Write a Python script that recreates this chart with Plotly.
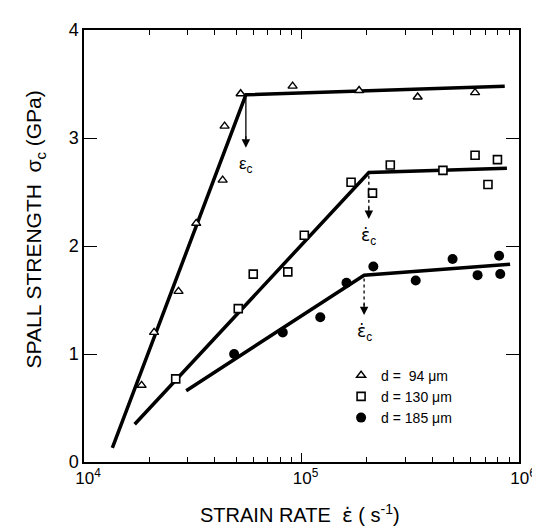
import math
import plotly.graph_objects as go

# ---- data ----
tri_x = [1.84e4, 2.10e4, 2.72e4, 3.28e4, 4.34e4, 4.43e4, 5.25e4, 9.1e4, 1.84e5, 3.42e5, 6.28e5]
tri_y = [0.71, 1.20, 1.58, 2.21, 2.61, 3.11, 3.41, 3.48, 3.44, 3.38, 3.42]

sq_x = [2.64e4, 5.12e4, 6.0e4, 8.65e4, 1.03e5, 1.69e5, 2.12e5, 2.56e5, 4.47e5, 6.28e5, 7.2e5, 7.96e5]
sq_y = [0.77, 1.42, 1.74, 1.76, 2.10, 2.59, 2.49, 2.75, 2.70, 2.84, 2.57, 2.80]

dot_x = [4.9e4, 8.2e4, 1.22e5, 1.61e5, 2.14e5, 3.35e5, 4.95e5, 6.45e5, 8.1e5, 8.2e5]
dot_y = [1.00, 1.20, 1.34, 1.66, 1.81, 1.68, 1.88, 1.73, 1.91, 1.74]

# bilinear fit lines
tri_fit_x = [1.35e4, 5.55e4, 8.6e5]
tri_fit_y = [0.13, 3.40, 3.48]
sq_fit_x = [1.71e4, 2.04e5, 8.8e5]
sq_fit_y = [0.35, 2.68, 2.72]
dot_fit_x = [2.95e4, 1.94e5, 9.1e5]
dot_fit_y = [0.66, 1.73, 1.83]

# critical strain rates (knee) with arrow tips and labels
knee_x = [5.55e4, 2.04e5, 1.94e5]
knee_y = [3.40, 2.68, 1.73]
tip_y = [2.91, 2.25, 1.36]
DOT = '<span style="font-family:DejaVu Sans">ε\u0307</span>'
knee_labels = ["ε<sub>c</sub>", DOT + "<sub>c</sub>", DOT + "<sub>c</sub>"]
arrow_dash = ["solid", "dot", "dot"]

series_names = ["d =  94 μm", "d = 130 μm", "d = 185 μm"]

x_tick_vals = [1e4, 1e5, 1e6]
x_tick_text = ["10<sup>4</sup>", "10<sup>5</sup>", "10<sup>6</sup>"]
y_tick_vals = [0, 1, 2, 3, 4]
y_tick_text = ["0", "1", "2", "3", "4"]

FONT = "Liberation Sans, Arial, sans-serif"

fig = go.Figure()

for fx, fy in [(tri_fit_x, tri_fit_y), (sq_fit_x, sq_fit_y), (dot_fit_x, dot_fit_y)]:
    fig.add_trace(go.Scatter(x=fx, y=fy, mode="lines",
                             line=dict(color="black", width=3.5),
                             showlegend=False, hoverinfo="skip"))

fig.add_trace(go.Scatter(x=tri_x, y=tri_y, mode="markers", name=series_names[0],
                         marker=dict(symbol="triangle-up", size=8, color="white",
                                     line=dict(color="black", width=1.4))))
fig.add_trace(go.Scatter(x=sq_x, y=sq_y, mode="markers", name=series_names[1],
                         marker=dict(symbol="square", size=8, color="white",
                                     line=dict(color="black", width=1.6))))
fig.add_trace(go.Scatter(x=dot_x, y=dot_y, mode="markers", name=series_names[2],
                         marker=dict(symbol="circle", size=10, color="black",
                                     line=dict(color="black", width=0))))

annotations = []
shapes = []
for kx, ky, ty, lab, dash in zip(knee_x, knee_y, tip_y, knee_labels, arrow_dash):
    lx = math.log10(kx)
    # shapes on a log axis take data values
    shapes.append(dict(type="line", xref="x", yref="y", x0=kx, x1=kx,
                       y0=ky - 0.03, y1=ty + 0.08,
                       line=dict(color="black", width=1.3, dash=dash)))
    # annotations on a log axis take log10 values
    annotations.append(dict(x=lx, y=ty, ax=lx, ay=ty + 0.12, xref="x", yref="y",
                            axref="x", ayref="y", text="", showarrow=True,
                            arrowhead=2, arrowsize=1.3, arrowwidth=1.3, arrowcolor="black"))
    annotations.append(dict(x=lx, y=ty - 0.04, xref="x", yref="y", text=lab,
                            showarrow=False, yanchor="top", xanchor="center",
                            font=dict(size=17, color="black", family=FONT)))

# axis titles as annotations for exact placement
annotations.append(dict(x=-0.112, y=0.539, xref="paper", yref="paper",
                        text="SPALL STRENGTH  σ<sub>c</sub> (GPa)", textangle=-90,
                        showarrow=False, xanchor="center", yanchor="middle",
                        font=dict(size=21, family=FONT, color="black")))
annotations.append(dict(x=0.4955, y=-0.121, xref="paper", yref="paper",
                        text="STRAIN RATE  " + DOT + " ( s<sup>-1</sup>)",
                        showarrow=False, xanchor="center", yanchor="middle",
                        font=dict(size=20, family=FONT, color="black")))

fig.update_layout(
    width=540, height=528,
    margin=dict(l=76, r=18, t=16, b=74),
    paper_bgcolor="white", plot_bgcolor="white",
    font=dict(family=FONT, color="black", size=17),
    showlegend=True,
    legend=dict(x=0.591, y=0.237, xanchor="left", yanchor="top",
                bgcolor="rgba(0,0,0,0)", borderwidth=0,
                font=dict(size=14, family=FONT), itemsizing="trace"),
    annotations=annotations,
    shapes=shapes,
)

fig.update_xaxes(
    type="log", range=[4, 6],
    showline=True, linecolor="black", linewidth=1.5, mirror="ticks",
    ticks="inside", ticklen=9, tickwidth=1.2, tickcolor="black",
    tickvals=x_tick_vals, ticktext=x_tick_text,
    tickfont=dict(size=17, family=FONT), ticklabelshift=4,
    showgrid=False, zeroline=False,
    minor=dict(ticks="inside", ticklen=5, tickwidth=1, tickcolor="black",
               dtick="D1", showgrid=False),
)
fig.update_yaxes(
    range=[0, 4],
    showline=True, linecolor="black", linewidth=1.5, mirror="ticks",
    ticks="inside", ticklen=13, tickwidth=1.2, tickcolor="black",
    tickvals=y_tick_vals, ticktext=y_tick_text,
    tickfont=dict(size=18, family=FONT),
    showgrid=False, zeroline=False,
)

fig.write_html("out.html")
